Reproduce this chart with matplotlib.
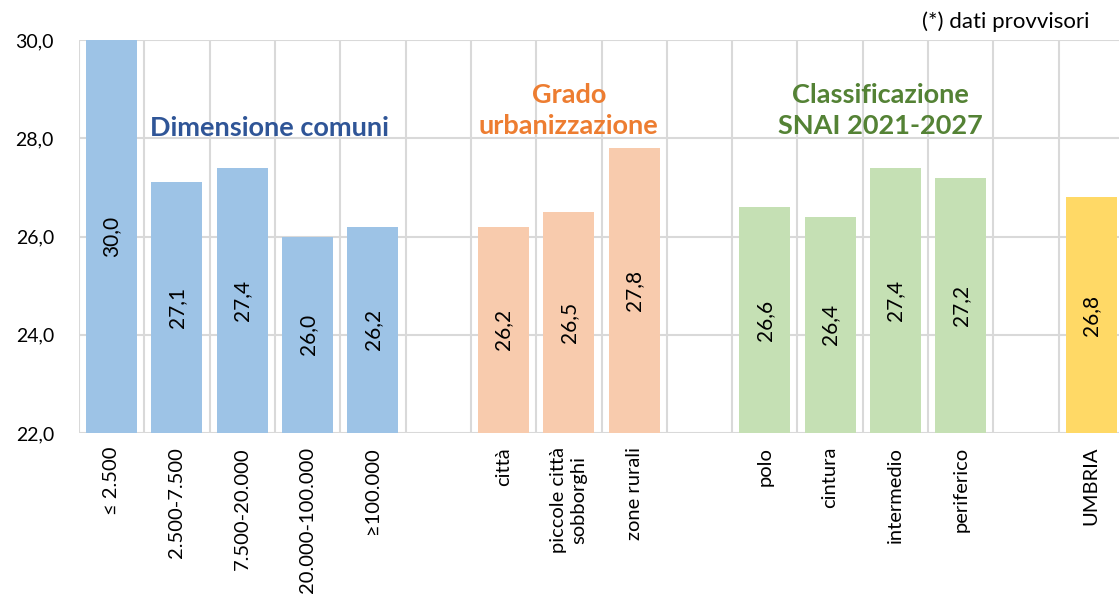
import matplotlib
matplotlib.use("Agg")
import matplotlib.pyplot as plt
import numpy as np

plt.rcParams['font.family'] = ['Lato', 'DejaVu Sans']

categories = ["≤ 2.500", "2.500-7.500", "7.500-20.000", "20.000-100.000", "≥100.000", "",
              "città", "piccole città\nsobborghi", "zone rurali", "",
              "polo", "cintura", "intermedio", "periferico", "",
              "UMBRIA"]
values = [30.0, 27.1, 27.4, 26.0, 26.2, None,
          26.2, 26.5, 27.8, None,
          26.6, 26.4, 27.4, 27.2, None,
          26.8]
groups = ["dim", "dim", "dim", "dim", "dim", None,
          "urb", "urb", "urb", None,
          "snai", "snai", "snai", "snai", None,
          "tot"]
group_colors = {"dim": "#9DC3E6", "urb": "#F8CBAD", "snai": "#C5E0B4", "tot": "#FFD966"}
group_titles = [("Dimensione comuni", 2.41, 28.21, "#2F5597"),
                ("Grado\nurbanizzazione", 7.0, 28.565, "#ED7D31"),
                ("Classificazione\nSNAI 2021-2027", 11.77, 28.565, "#548235")]
ymin, ymax = 22.0, 30.0

fig = plt.figure(figsize=(11.19, 6.02), dpi=100)
W, H = 1119, 602
ax = fig.add_axes([79 / W, 1 - 433 / H, (1124 - 79) / W, (433 - 40) / H])

x = np.arange(len(categories))
for xi, v, g in zip(x, values, groups):
    if v is None:
        continue
    ax.bar(xi, v - ymin, bottom=ymin, width=0.78, color=group_colors[g], zorder=3)
    ax.text(xi, ymin + (v - ymin) / 2, f"{v:.1f}".replace(".", ","), rotation=90,
            ha="center", va="center", fontsize=15, color="black", zorder=4)

ax.set_xlim(-0.5, len(categories) - 0.5)
ax.set_ylim(ymin, ymax)
yt = np.arange(22, 30.1, 2)
ax.set_yticks(yt)
ax.set_yticklabels([f"{t:.1f}".replace(".", ",") for t in yt], fontsize=14)
ax.set_xticks(x)
ax.set_xticklabels(categories, rotation=90, fontsize=14.5, va="top", ha="center",
                   multialignment="center")
ax.tick_params(axis="both", length=0)
ax.tick_params(axis="x", pad=10)
ax.tick_params(axis="y", pad=18)

# grid
for yv in yt:
    ax.axhline(yv, color="#D9D9D9", lw=1.5, zorder=1)
for b in np.arange(-0.5, len(categories), 1.0):
    ax.axvline(b, color="#D9D9D9", lw=1.5, zorder=1)
for s in ax.spines.values():
    s.set_visible(False)

for txt, gx, gy, col in group_titles:
    ax.text(gx, gy, txt, ha="center", va="center", fontsize=19.5, fontweight="bold",
            color=col, linespacing=1.36, zorder=5)

fig.text(1090 / W, 1 - 22 / H, "(*) dati provvisori", ha="right", va="center", fontsize=16)

fig.savefig("out.png", dpi=100)
